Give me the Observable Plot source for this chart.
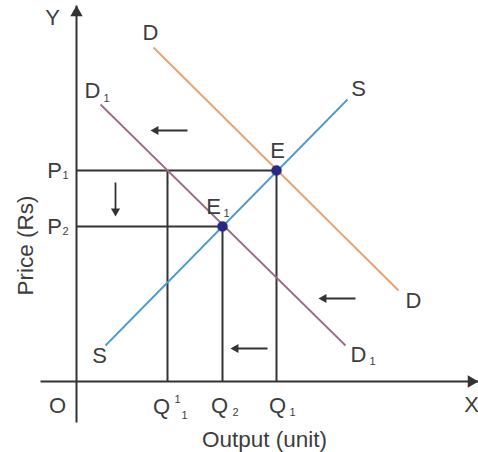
<!DOCTYPE html>
<html>
<head>
<meta charset="utf-8">
<script src="https://cdn.jsdelivr.net/npm/d3@7"></script>
<script src="https://cdn.jsdelivr.net/npm/@observablehq/plot@0.6"></script>
<style>
  html, body { margin: 0; padding: 0; background: #fff; }
  #chart svg { display: block; }
</style>
</head>
<body>
<div id="chart"></div>
<script>
// ---- data (chart units: origin O at 0,0) ----
const quantityLabels = ["Q'1", "Q2", "Q1"];
const quantityValues = [91, 146, 200];
const priceLabels = ["P1", "P2"];
const priceValues = [211, 155];

// demand / supply lines: [x1, y1, x2, y2]
const curveNames = ["D", "D1", "S"];
const curveEnds = [
  [77, 334, 322, 91],   // D
  [24, 277, 269, 36],   // D1
  [29, 36, 271, 282]    // S
];
const curveColors = ["#eaa06c", "#9c6b8c", "#4a9cca"];

// equilibria
const equilibriumNames = ["E", "E1"];
const equilibriumQ = [200, 146];
const equilibriumP = [211, 155];

// shift arrows: [tailX, tailY, tipX, tipY]
const shiftArrows = [
  [111, 251, 74, 251],
  [39, 199, 39, 165],
  [279, 83, 242, 83],
  [191, 33, 154, 33]
];

// axes: [tailX, tailY, tipX, tipY]
const axisArrows = [
  [-36, 0, 402, 0],
  [0, -41, 0, 376]
];

// main label glyphs and anchors
const labelText = ["Y", "D", "D", "S", "E", "E", "P", "P", "D", "D", "S", "O", "Q", "Q", "Q", "X"];
const labelX = [-24, 74, 16, 282, 201, 137, -22, -22, 337, 282, 23, -19, 85, 143, 201, 395];
const labelY = [364, 349, 291, 293, 231, 175, 211, 155, 81, 27, 26, -24, -25, -24, -24, -23];
// subscripts / superscripts and anchors
const smallText = ["1", "1", "1", "2", "1", "1", "1", "2", "1"];
const smallX = [30, 150, -11, -11, 296, 101, 108, 159, 216];
const smallY = [283, 168, 206, 150, 20, -18, -34, -31, -31];

const xTitle = "Output (unit)";
const yTitle = "Price (Rs)";

// ---- build ----
const ink = "#333";
const textInk = "#3d3d3d";
const font = "Liberation Sans, Arial, sans-serif";

const curves = curveNames.map((n, i) => ({name: n, color: curveColors[i], x1: curveEnds[i][0], y1: curveEnds[i][1], x2: curveEnds[i][2], y2: curveEnds[i][3]}));
const eq = equilibriumNames.map((n, i) => ({name: n, q: equilibriumQ[i], p: equilibriumP[i]}));
const hLines = priceValues.map((p, i) => ({p, q: i === 0 ? quantityValues[2] : quantityValues[1]}));
const vLines = quantityValues.map((q, i) => ({q, p: i === 1 ? priceValues[1] : priceValues[0]}));

function arrowRows(arr, headR) {
  const k = 2 * 0.777 * headR; // distance from tip to triangle centroid
  return arr.map(([x1, y1, x2, y2]) => {
    const dx = x2 - x1, dy = y2 - y1, L = Math.hypot(dx, dy);
    return {x1, y1, x2, y2, hx: x2 - dx / L * k, hy: y2 - dy / L * k, rot: Math.atan2(dx, dy) * 180 / Math.PI};
  });
}
const axes = arrowRows(axisArrows, 4.6);
const shifts = arrowRows(shiftArrows, 3.4);

const labels = labelText.map((t, i) => ({t, x: labelX[i], y: labelY[i]}));
const smalls = smallText.map((t, i) => ({t, x: smallX[i], y: smallY[i]}));

const chart = Plot.plot({
  width: 478,
  height: 452,
  x: {type: "linear", domain: [0, 400], range: [76, 476], axis: null},
  y: {type: "linear", domain: [0, 400], range: [381, -19], axis: null},
  style: {fontFamily: font, background: "#fff", overflow: "visible"},
  marks: [
    // guide lines
    Plot.link(hLines, {x1: 0, x2: "q", y1: "p", y2: "p", stroke: ink, strokeWidth: 2}),
    Plot.link(vLines, {x1: "q", x2: "q", y1: 0, y2: "p", stroke: ink, strokeWidth: 2}),
    // axes
    Plot.link(axes, {x1: "x1", y1: "y1", x2: "x2", y2: "y2", stroke: ink, strokeWidth: 2}),
    Plot.dot(axes, {x: "hx", y: "hy", symbol: "triangle", r: 4.6, rotate: "rot", fill: ink, stroke: "none"}),
    // curves
    Plot.link(curves, {x1: "x1", y1: "y1", x2: "x2", y2: "y2", stroke: "color", strokeWidth: 1.8}),
    // shift arrows
    Plot.link(shifts, {x1: "x1", y1: "y1", x2: "hx", y2: "hy", stroke: ink, strokeWidth: 1.8}),
    Plot.dot(shifts, {x: "hx", y: "hy", symbol: "triangle", r: 3.4, rotate: "rot", fill: ink, stroke: "none"}),
    // equilibria
    Plot.dot(eq, {x: "q", y: "p", r: 5, fill: "#262a80", stroke: "#262a80", strokeOpacity: 0.35, strokeWidth: 1.5}),
    // labels
    Plot.text(labels, {x: "x", y: "y", text: "t", fill: textInk, fontSize: 22}),
    Plot.text(smalls, {x: "x", y: "y", text: "t", fill: textInk, fontSize: 11}),
    // axis titles
    Plot.text([xTitle], {x: 188, y: -58, text: d => d, fill: textInk, fontSize: 22.5}),
    Plot.text([yTitle], {x: -51, y: 136, text: d => d, fill: textInk, fontSize: 22.5, rotate: -90})
  ]
});
document.getElementById("chart").appendChild(chart);
</script>
</body>
</html>
